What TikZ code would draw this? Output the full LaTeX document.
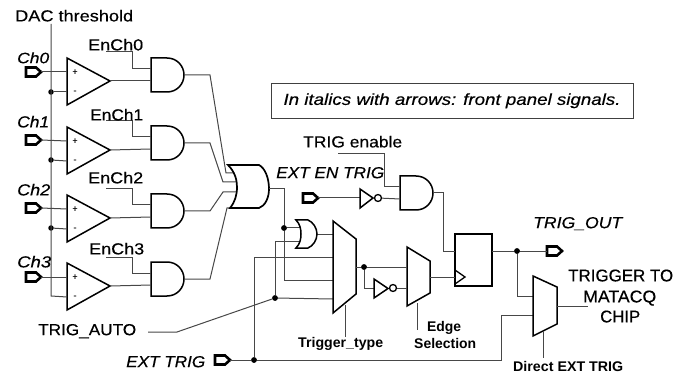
\documentclass[tikz,border=0pt]{standalone}
\usepackage{fontspec}
\setmainfont{Liberation Sans}[UprightFeatures={FakeBold=0.35},ItalicFeatures={FakeBold=0.35}]
\newcommand{\fitw}[3]{\fontsize{#2}{#2}\selectfont\resizebox{#1pt}{\height}{#3\strut}}
\tikzset{
  x=1pt,y=-1pt,
  wire/.style={draw=black!72,line width=1pt,line join=miter},
  gate/.style={draw=black,line width=1.5pt,line join=miter,fill=white},
  lbl/.style={anchor=west,inner sep=0pt,text=black,yshift=-2pt},
  dotj/.style={circle,fill=black,inner sep=0pt,minimum size=5.5pt},
  bubble/.style={circle,draw=black,line width=1.3pt,fill=white,inner sep=0pt,minimum size=7pt},
  comparator/.pic={
    \path[gate] (0,0)--(43,23)--(0,47)--cycle;
    \node[inner sep=0pt,font=\fontsize{9}{9}\selectfont] (-plus) at (8,14) {+};
    \node[inner sep=0pt,font=\fontsize{9}{9}\selectfont] (-minus) at (8,34) {-};
    \coordinate (-inp) at (0,14); \coordinate (-inm) at (0,34); \coordinate (-out) at (43,23);
  },
  andg/.pic={
    \path[gate] (0,0)--(16,0) .. controls (26,0) and (33,8) .. (33,17) .. controls (33,26) and (26,34) .. (16,34)--(0,34)--cycle;
    \coordinate (-a) at (0,11); \coordinate (-b) at (0,23); \coordinate (-out) at (33,17);
  },
  port/.pic={
    \path[draw=black,line width=2.6pt,line join=miter,fill=white] (1,-4.5)--(11,-4.5)--(16,0)--(11,4.5)--(1,4.5)--cycle;
    \coordinate (-tip) at (16,0); \coordinate (-in) at (1,0);
  }
}
\begin{document}
\begin{tikzpicture}
\useasboundingbox (0,0) rectangle (686,377);
% ---- coordinates
\coordinate (dactop) at (51,24);
\coordinate (dacbot) at (51,296);
\node[dotj] (j0) at (51,92) {};
\node[dotj] (j1) at (51,160) {};
\node[dotj] (j2) at (51,228) {};
% ---- comparators, gates, ports
\pic (c0) at (67,58) {comparator};
\pic (c1) at (67,127) {comparator};
\pic (c2) at (67,195) {comparator};
\pic (c3) at (67,263) {comparator};
\pic (a0) at (151,58) {andg};
\pic (a1) at (151,126) {andg};
\pic (a2) at (151,194) {andg};
\pic (a3) at (151,262) {andg};
\pic (p0) at (25,72) {port};
\pic (p1) at (25,140) {port};
\pic (p2) at (25,208) {port};
\pic (p3) at (25,277) {port};
\pic (pen) at (302,198) {port};
\pic (pex) at (214,360) {port};
\pic (pout) at (546,251) {port};
\pic (a4) at (400,176) {andg};
% wires left
\draw[wire] (dactop)--(dacbot)--(c3-inm);
\draw[wire] (j0)--(c0-inm); \draw[wire] (j1)--(c1-inm); \draw[wire] (j2)--(c2-inm);
\draw[wire] (p0-tip)--(c0-inp); \draw[wire] (p1-tip)--(c1-inp);
\draw[wire] (p2-tip)--(c2-inp); \draw[wire] (p3-tip)--(c3-inp);
\draw[wire] (c0-out)--(a0-b); \draw[wire] (c1-out)--(a1-b);
\draw[wire] (c2-out)--(a2-b); \draw[wire] (c3-out)--(a3-b);
\coordinate (e0) at (106,52); \coordinate (e1) at (106,121);
\coordinate (e2) at (106,189); \coordinate (e3) at (106,257);
\coordinate (e0k) at (132,52); \coordinate (e1k) at (132,121);
\coordinate (e2k) at (132,189); \coordinate (e3k) at (132,257);
\draw[wire] (e0)--(e0k)|-(a0-a); \draw[wire] (e1)--(e1k)|-(a1-a);
\draw[wire] (e2)--(e2k)|-(a2-a); \draw[wire] (e3)--(e3k)|-(a3-a);
% big OR
\coordinate (o0b) at (210,75); \coordinate (o1b) at (210,143);
\coordinate (o2b) at (210,211); \coordinate (o3b) at (210,279);
\coordinate (o0) at (226,173); \coordinate (o1) at (223,182);
\coordinate (o2) at (223,192); \coordinate (o3) at (227,208);
\coordinate (o0e) at (235,173); \coordinate (o1e) at (238,182);
\coordinate (o2e) at (238,192); \coordinate (o3e) at (232,208);
\draw[wire] (a0-out)--(o0b)--(o0)--(o0e);
\draw[wire] (a1-out)--(o1b)--(o1)--(o1e);
\draw[wire] (a2-out)--(o2b)--(o2)--(o2e);
\draw[wire] (a3-out)--(o3b)--(o3)--(o3e);
\path[draw=black,line width=1.7pt,fill=white] (228,165) .. controls (235,172) and (237,180) .. (237,187) .. controls (237,195) and (235,202) .. (230,208) -- (259,208) .. controls (265,206) and (269,198) .. (269,189) .. controls (269,178) and (265,168) .. (259,165) -- cycle;
\coordinate (oout) at (269,189);
\coordinate (ok) at (284,189);
\node[dotj] (j3) at (284,228) {};
\coordinate (v1) at (284,280);
% small OR
\coordinate (s1) at (301,228); \coordinate (s2) at (301,241); \coordinate (sout) at (317,234);
\node[dotj] (j4) at (275,298) {};
\coordinate (s2k) at (275,241);
\coordinate (mi1) at (333,234); \coordinate (mi2) at (333,257); \coordinate (mi3) at (333,280); \coordinate (mi4) at (333,299);
\node[dotj] (j5) at (254,360) {};
\coordinate (mi2k) at (254,257);
% wires into mux 1
\draw[wire] (oout)--(ok)--(v1)--(mi3);
\draw[wire] (j3)--(s1);
\draw[wire] (s2)--(s2k)--(j4);
\draw[wire] (j4)--(mi4);
\draw[wire] (j5)--(mi2k)--(mi2);
\draw[wire] (sout)--(mi1);
\path[gate] (296,220)--(308,220) .. controls (313,222) and (317,228) .. (317,234) .. controls (317,240) and (313,246) .. (308,248) --(296,248) .. controls (300,244) and (301,239) .. (301,234) .. controls (301,229) and (300,224) .. (296,220) -- cycle;
% TRIG_AUTO
\coordinate (ta0) at (148,332); \coordinate (ta1) at (177,332);
\draw[wire] (ta0)--(ta1)--(j4);
% mux 1
\path[gate] (333,221)--(356,239)--(356,294)--(333,313)--cycle;
\coordinate (m1out) at (356,267);
\coordinate (m1s) at (345,305); \coordinate (m1se) at (345,337);
\draw[wire] (m1s)--(m1se);
% mux 2 + inverter
\path[gate] (407,247)--(430,261)--(430,293)--(407,306)--cycle;
\coordinate (m2i1) at (407,267); \coordinate (m2i2) at (407,288); \coordinate (m2out) at (430,277);
\coordinate (m2s) at (417,303); \coordinate (m2se) at (417,330);
\draw[wire] (m2s)--(m2se);
\node[dotj] (j6) at (364,267) {};
\draw[wire] (m1out)--(m2i1);
\coordinate (ik) at (364,288); \coordinate (ii) at (374,288);
\node[bubble] (ib) at (393,288) {};
\draw[wire] (j6)--(ik)--(ii);
\draw[wire] (ib)--(m2i2);
\path[gate] (374,279)--(388,288.5)--(374,298)--cycle;
% upper inverter
\coordinate (ui) at (360,198);
\node[bubble] (ub) at (378,198) {};
\draw[wire] (pen-tip)--(ui);
\draw[wire] (ub)--(a4-b);
\path[gate] (360,189)--(373,198)--(360,208)--cycle;
% TRIG enable wire
\coordinate (te0) at (338,154); \coordinate (te1) at (384,154);
\draw[wire] (te0)--(te1)|-(a4-a);
% flip-flop
\path[gate] (455,234) rectangle (492,286);
\coordinate (ffd) at (455,251); \coordinate (ffq) at (492,251); \coordinate (ffc) at (455,277);
\path[draw=black,line width=1.3pt] (455,270)--(465,277)--(455,284);
\coordinate (ak) at (443,193);
\draw[wire] (a4-out)--(ak)|-(ffd);
\draw[wire] (m2out)--(ffc);
% output
\node[dotj] (j7) at (517,251) {};
\draw[wire] (ffq)--(pout-in);
\coordinate (m3i1) at (533,296); \coordinate (m3i2) at (533,315);
\coordinate (m3k) at (501,315); \coordinate (ex) at (501,360);
\draw[wire] (j7)|-(m3i1);
\draw[wire] (pex-tip)--(j5)--(ex)--(m3k)--(m3i2);
% mux 3
\path[gate] (533,276)--(557,287)--(557,324)--(533,336)--cycle;
\coordinate (m3o) at (557,306); \coordinate (m3oe) at (588,306);
\coordinate (m3s) at (543,331); \coordinate (m3se) at (543,358);
\draw[wire] (m3o)--(m3oe); \draw[wire] (m3s)--(m3se);
% redraw junctions on top
\node[dotj] at (j3) {}; \node[dotj] at (j4) {}; \node[dotj] at (j5) {}; \node[dotj] at (j6) {}; \node[dotj] at (j7) {};
% info box
\node[draw=black!75,line width=1pt,minimum width=362pt,minimum height=35pt,inner sep=0pt,anchor=center] (box) at (452,101.5) {\itshape\fitw{337}{16}{In italics with arrows: front panel signals.}};
% labels
\node[lbl] (tdac) at (15,16) {\fitw{118}{16}{DAC threshold}};
\node[lbl] (tc0) at (17,58) {\itshape\fitw{32}{15}{Ch0}};
\node[lbl] (tc1) at (17,122) {\itshape\fitw{32}{16}{Ch1}};
\node[lbl] (tc2) at (17,190) {\itshape\fitw{33}{16}{Ch2}};
\node[lbl] (tc3) at (17,262) {\itshape\fitw{34}{16}{Ch3}};
\node[lbl] (te0t) at (88,45) {\fitw{55}{16}{EnCh0}};
\node[lbl] (te1t) at (90,115) {\fitw{53}{16}{EnCh1}};
\node[lbl] (te2t) at (88,178) {\fitw{55}{16}{EnCh2}};
\node[lbl] (te3t) at (89,249) {\fitw{55}{16}{EnCh3}};
\node[lbl] (tta) at (38,330) {\fitw{98}{16}{TRIG\_AUTO}};
\node[lbl] (tet) at (126,362) {\itshape\fitw{79}{16}{EXT TRIG}};
\node[lbl] (tte) at (303,142) {\fitw{99}{16}{TRIG enable}};
\node[lbl] (tee) at (276,173) {\itshape\fitw{108}{16}{EXT EN TRIG}};
\node[lbl] (ttt) at (298,343) {\bfseries\fitw{85}{14}{Trigger\_type}};
\node[lbl] (ted) at (427,327) {\bfseries\fitw{34}{14}{Edge}};
\node[lbl] (tse) at (414,344) {\bfseries\fitw{62}{14}{Selection}};
\node[lbl] (tto) at (533,223) {\itshape\fitw{89}{16}{TRIG\_OUT}};
\node[lbl] (tt1) at (568,276) {\fitw{105}{17}{TRIGGER TO}};
\node[lbl] (tt2) at (583,297) {\fitw{73}{17}{MATACQ}};
\node[lbl] (tt3) at (600,317) {\fitw{40}{17}{CHIP}};
\node[lbl] (tdx) at (513,367) {\bfseries\fitw{110}{14}{Direct EXT TRIG}};
\end{tikzpicture}
\end{document}
